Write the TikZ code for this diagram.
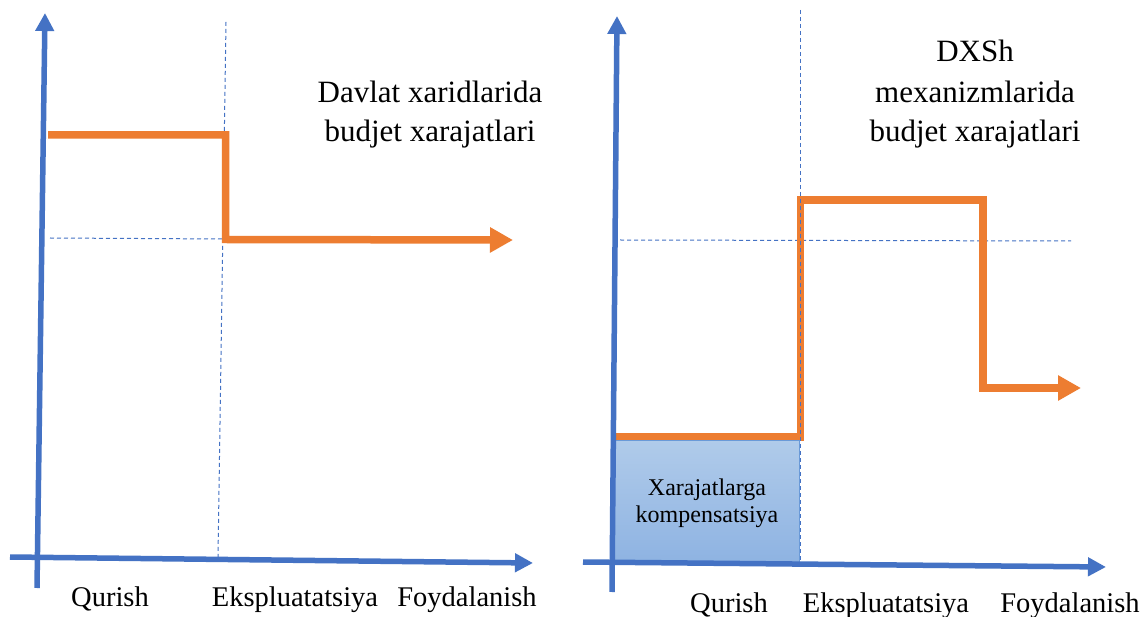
\documentclass[tikz,border=0pt]{standalone}
\usepackage{fontspec}
\setmainfont{Liberation Serif}
\usetikzlibrary{arrows.meta}
\definecolor{axblue}{HTML}{4472C4}
\definecolor{orng}{HTML}{ED7D31}
\definecolor{boxtop}{HTML}{B0CBEA}
\definecolor{boxbot}{HTML}{8EB3E2}
\definecolor{boxline}{HTML}{6A9AD8}
\begin{document}
\begin{tikzpicture}[x=1pt,y=-1pt,
  axis/.style={draw=axblue,line width=5.5pt,-{Triangle[length=18pt,width=18pt]}},
  guide/.style={draw=axblue,line width=1pt,dash pattern=on 4pt off 3pt},
  costline/.style={draw=orng,line width=7.5pt,line join=miter,-{Triangle[length=23pt,width=24pt]}},
  title/.style={align=center,font=\fontsize{31}{39}\selectfont,anchor=base},
  lbl/.style={font=\fontsize{28.5}{32}\selectfont,anchor=base},
  comp/.style={draw=boxline,line width=0.8pt,top color=boxtop,bottom color=boxbot,
    minimum width=186pt,minimum height=122pt,inner sep=0pt,anchor=north west},
  comptext/.style={align=center,font=\fontsize{24}{27}\selectfont,anchor=base},
]
\useasboundingbox (0,0) rectangle (1146,617);
\fill[white] (0,0) rectangle (1146,617);

% ---------- left panel ----------
\coordinate (LyB) at (37,588);
\coordinate (LyT) at (45,13);
\coordinate (LxL) at (10,557);
\coordinate (LxR) at (533,563);
\coordinate (LgT) at (226,22);
\coordinate (LgB) at (218,557);
\coordinate (LhL) at (50,238);
\coordinate (LhR) at (225,239);
\coordinate (Lo1) at (48,135);
\coordinate (Lo2) at (225.5,135);
\coordinate (Lo3) at (225.5,239.5);
\coordinate (Lo4) at (513,240);

\draw[guide] (LgT) -- (LgB);
\draw[guide] (LhL) -- (LhR);
\draw[costline] (Lo1) -- (Lo2) -- (Lo3) -- (Lo4);
\draw[axis] (LxL) -- (LxR);
\draw[axis] (LyB) -- (LyT);

\node[title] (Lt1) at (430,103) {Davlat xaridlarida};
\node[title] (Lt2) at (430,142) {budjet xarajatlari};

\node[lbl] (Lq) at (110,606) {Qurish};
\node[lbl] (Le) at (295,606) {Ekspluatatsiya};
\node[lbl] (Lf) at (467,606) {Foydalanish};

% ---------- right panel ----------
\coordinate (RyB) at (612,592);
\coordinate (RyT) at (617,16);
\coordinate (RxL) at (583,562);
\coordinate (RxR) at (1106,567);
\coordinate (RgT) at (800,10);
\coordinate (RgB) at (800,562);
\coordinate (RhL) at (620,240);
\coordinate (RhR) at (1071,241);
\coordinate (Ro1) at (614,437);
\coordinate (Ro2) at (800.5,437);
\coordinate (Ro3) at (800.5,200);
\coordinate (Ro4) at (983,200);
\coordinate (Ro5) at (983,388);
\coordinate (Ro6) at (1081,388);

\draw[guide] (RhL) -- (RhR);
\draw[costline] (Ro1) -- (Ro2) -- (Ro3) -- (Ro4) -- (Ro5) -- (Ro6);
\node[comp] (box) at (613,440) {};
\draw[guide] (RgT) -- (RgB);
\node[comptext] (bt1) at (707,495) {Xarajatlarga};
\node[comptext] (bt2) at (707,522) {kompensatsiya};
\draw[axis] (RxL) -- (RxR);
\draw[axis] (RyB) -- (RyT);

\node[title] (Rt1) at (975,62) {DXSh};
\node[title] (Rt2) at (975,103) {mexanizmlarida};
\node[title] (Rt3) at (975,142) {budjet xarajatlari};

\node[lbl] (Rq) at (729,612) {Qurish};
\node[lbl] (Re) at (886,612) {Ekspluatatsiya};
\node[lbl] (Rf) at (1070,612) {Foydalanish};
\end{tikzpicture}
\end{document}
